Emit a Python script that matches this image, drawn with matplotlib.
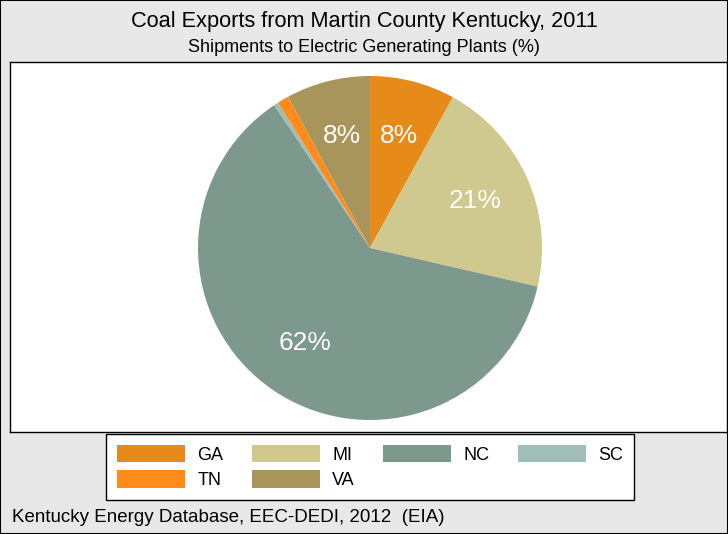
import matplotlib
matplotlib.use('Agg')
import matplotlib.pyplot as plt

plt.rcParams['font.family'] = ['Liberation Sans', 'DejaVu Sans']

# data
states = ['GA', 'MI', 'NC', 'SC', 'TN', 'VA']
shares = [8.0, 20.6, 62.0, 0.4, 1.1, 7.9]
colors = ['#E68A1A', '#CFC98F', '#7D998E', '#A1BDB8', '#FF8C1A', '#A8955C']

W, H = 728, 534
fig = plt.figure(figsize=(W / 100, H / 100), dpi=100, facecolor='#E8E8E8')

def box(x0, y0, x1, y1):
    # pixel box (top-left origin) -> figure fraction
    return [x0 / W, 1 - y1 / H, (x1 - x0) / W, (y1 - y0) / H]

# outer frame
frame = fig.add_axes([0, 0, 1, 1], facecolor='none')
frame.set_xticks([]); frame.set_yticks([])
for s in frame.spines.values():
    s.set_linewidth(1.5); s.set_color('black')

# plot area
area = fig.add_axes(box(10, 62, 727, 432), facecolor='white')
area.set_xticks([]); area.set_yticks([])
for s in area.spines.values():
    s.set_linewidth(1.0); s.set_color('black')

# pie
cx, cy, r = 370, 248, 172
ax = fig.add_axes(box(cx - r, cy - r, cx + r, cy + r))
ax.set_facecolor('none')

def fmt(p):
    return f'{p:.0f}%' if p >= 5 else ''

wedges, _, autotexts = ax.pie(shares, colors=colors, startangle=90, counterclock=False,
                              autopct=fmt, pctdistance=0.67,
                              wedgeprops=dict(linewidth=0),
                              textprops=dict(color='white', fontsize=19))
ax.set_xlim(-1, 1); ax.set_ylim(-1, 1)

fig.text(0.5, 1 - 22 / H, 'Coal Exports from Martin County Kentucky, 2011',
         ha='center', va='center', fontsize=15.7)
fig.text(0.5, 1 - 48 / H, 'Shipments to Electric Generating Plants (%)',
         ha='center', va='center', fontsize=13)
fig.text(12 / W, 1 - 517 / H, 'Kentucky Energy Database, EEC-DEDI, 2012  (EIA)',
         ha='left', va='center', fontsize=13.5)

# legend filled column by column, so reorder to read row by row
order = [0, 4, 1, 5, 2, 3]
leg = fig.legend([wedges[i] for i in order], [states[i] for i in order], ncol=4,
                 loc='center', bbox_to_anchor=((108 + 632) / 2 / W, 1 - 467 / H),
                 fontsize=13, frameon=True, fancybox=False, edgecolor='black',
                 framealpha=1, facecolor='white',
                 handlelength=3.8, handleheight=1.1, handletextpad=0.67,
                 columnspacing=1.55, labelspacing=0.38, borderpad=0.6)
leg.get_frame().set_linewidth(1.0)

fig.savefig('out.png', dpi=100, facecolor=fig.get_facecolor())
